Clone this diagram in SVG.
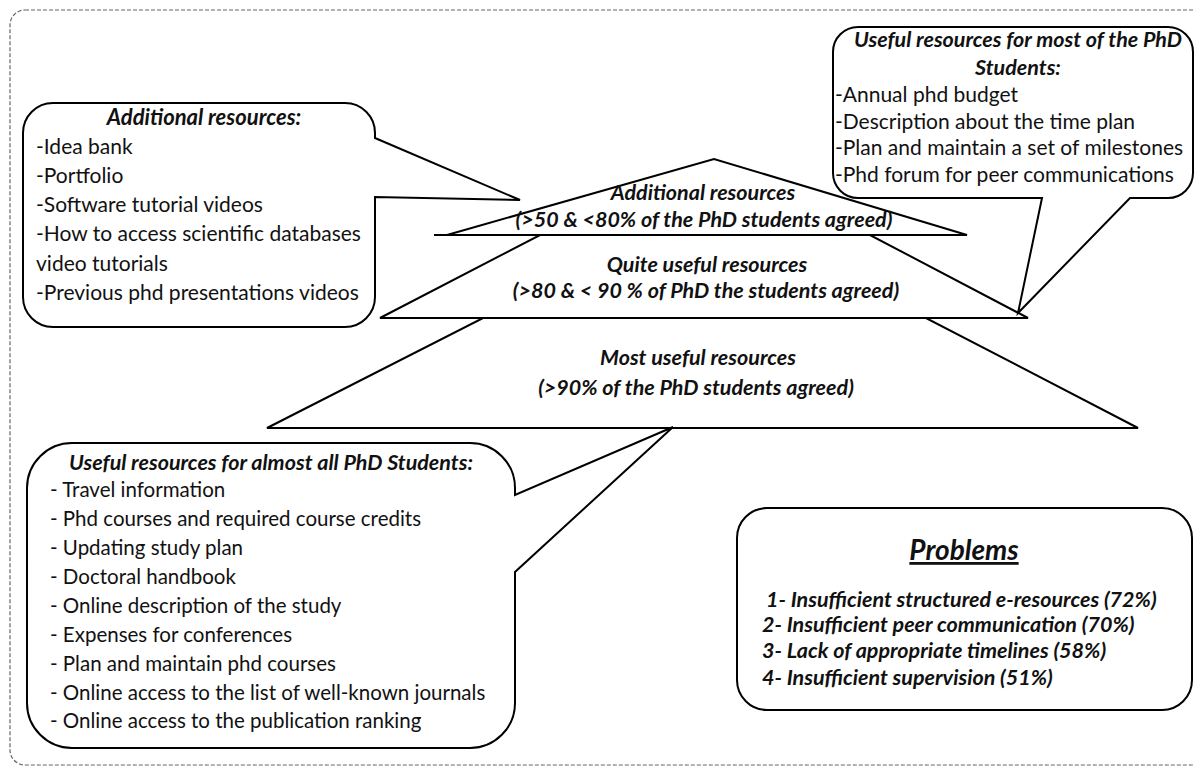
<svg xmlns="http://www.w3.org/2000/svg" width="1194" height="770" viewBox="0 0 1194 770">
<style>
.shape{fill:#fff;stroke:#000;stroke-width:2;stroke-linejoin:miter}
.frame{fill:none;stroke:#666;stroke-width:1.2;stroke-dasharray:4 2}
.t{font-family:Lato,"Open Sans",sans-serif;font-size:21px;fill:#111}
.bi{font-family:Lato,"Open Sans",sans-serif;font-size:21.5px;font-weight:bold;font-style:italic;fill:#111}
.c{text-anchor:middle}
</style>
<rect width="1194" height="770" fill="#fff"/>
<rect class="frame" x="10" y="10" width="1200" height="755" rx="15"/>
<g id="pyramid">
  <g id="level-most">
    <path class="shape" d="M483,318 H926 L1138,428 H267 Z"/>
    <text class="bi c" x="698" y="365">Most useful resources</text>
    <text class="bi c" x="696" y="395">(&gt;90% of the PhD students agreed)</text>
  </g>
  <g id="level-quite">
    <path class="shape" d="M540,235 H870 L1028,318 H380 Z"/>
    <text class="bi c" x="707" y="272">Quite useful resources</text>
    <text class="bi c" x="706" y="298">(&gt;80 &amp; &lt; 90 % of PhD the students agreed)</text>
  </g>
  <g id="level-additional">
    <path class="shape" d="M434,235 H967 L714,159 L447,235"/>
    <text class="bi c" x="703" y="200">Additional resources</text>
    <text class="bi c" x="704" y="227">(&gt;50 &amp; &lt;80% of the PhD students agreed)</text>
  </g>
</g>
<g id="callout-additional">
  <path class="shape" d="M53,103 H345 A30,30 0 0 1 375,133 V138 L520,200 L375,197 V297 A30,30 0 0 1 345,327 H53 A30,30 0 0 1 23,297 V133 A30,30 0 0 1 53,103 Z"/>
  <text class="bi c" x="204" y="125" style="font-size:22px">Additional resources:</text>
  <text class="t" x="36" y="154">-Idea bank</text>
  <text class="t" x="36" y="183">-Portfolio</text>
  <text class="t" x="36" y="212">-Software tutorial videos</text>
  <text class="t" x="36" y="241">-How to access scientific databases</text>
  <text class="t" x="36" y="271">video tutorials</text>
  <text class="t" x="36" y="300">-Previous phd presentations videos</text>
</g>
<g id="callout-most">
  <path class="shape" d="M858,27 H1168 A25,25 0 0 1 1193,52 V173 A25,25 0 0 1 1168,198 H1130 L1018,313 L1042,198 H858 A25,25 0 0 1 833,173 V52 A25,25 0 0 1 858,27 Z"/>
  <text class="bi c" x="1018" y="47">Useful resources for most of the PhD</text>
  <text class="bi c" x="1018" y="75">Students:</text>
  <text class="t" x="835" y="102">-Annual phd budget</text>
  <text class="t" x="835" y="129">-Description about the time plan</text>
  <text class="t" x="835" y="155">-Plan and maintain a set of milestones</text>
  <text class="t" x="835" y="182">-Phd forum for peer communications</text>
</g>
<g id="callout-almost-all">
  <path class="shape" d="M72,443 H470 A45,45 0 0 1 515,488 V495 L673,427 L515,572 V703 A45,45 0 0 1 470,748 H72 A45,45 0 0 1 27,703 V488 A45,45 0 0 1 72,443 Z"/>
  <text class="bi c" x="271" y="470">Useful resources for almost all PhD Students:</text>
  <text class="t" x="50" y="497" style="font-size:20.5px">- Travel information</text>
  <text class="t" x="50" y="526" style="font-size:20.5px">- Phd courses and required course credits</text>
  <text class="t" x="50" y="555" style="font-size:20.5px">- Updating study plan</text>
  <text class="t" x="50" y="584" style="font-size:20.5px">- Doctoral handbook</text>
  <text class="t" x="50" y="613" style="font-size:20.5px">- Online description of the study</text>
  <text class="t" x="50" y="642" style="font-size:20.5px">- Expenses for conferences</text>
  <text class="t" x="50" y="671" style="font-size:20.5px">- Plan and maintain phd courses</text>
  <text class="t" x="50" y="700" style="font-size:20.5px">- Online access to the list of well-known journals</text>
  <text class="t" x="50" y="728" style="font-size:20.5px">- Online access to the publication ranking</text>
</g>
<g id="problems">
  <rect class="shape" x="737" y="508" width="455" height="202" rx="30"/>
  <text class="bi c" x="964" y="560" style="font-size:28px;text-decoration:underline">Problems</text>
  <text class="bi" x="766" y="607">1- Insufficient structured e-resources (72%)</text>
  <text class="bi" x="762" y="632">2- Insufficient peer communication (70%)</text>
  <text class="bi" x="762" y="658">3- Lack of appropriate timelines (58%)</text>
  <text class="bi" x="762" y="685">4- Insufficient supervision (51%)</text>
</g>
<g id="connectors"/>
</svg>
